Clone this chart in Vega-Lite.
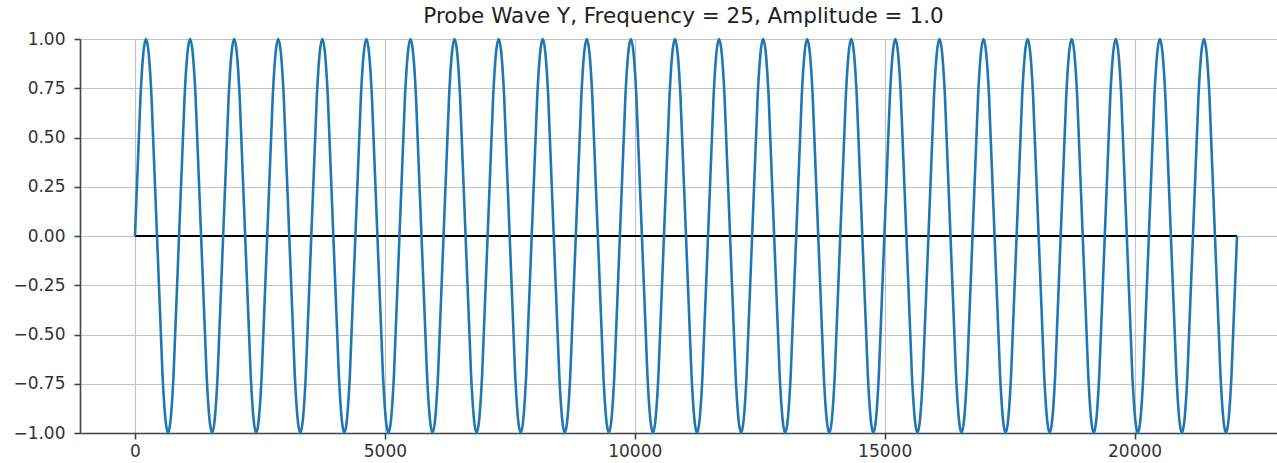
{
  "$schema": "https://vega.github.io/schema/vega-lite/v6.json",
  "width": 1197,
  "height": 394,
  "autosize": {"type": "none"},
  "padding": {"left": 80, "top": 39, "right": 0, "bottom": 30},
  "background": "white",
  "title": {"text": "Probe Wave Y, Frequency = 25, Amplitude = 1.0", "font": "DejaVu Sans", "fontSize": 21.5, "fontWeight": "normal", "color": "#222", "offset": 3, "anchor": "middle", "dx": 5},
  "config": {
    "view": {"stroke": null},
    "axis": {
      "labelFont": "DejaVu Sans", "labelFontSize": 17, "labelColor": "#333",
      "domainColor": "#444", "domainWidth": 1.6,
      "tickColor": "#444", "tickWidth": 1.6, "tickSize": 6,
      "gridColor": "#c4c4c4", "gridWidth": 1.2, "title": null
    }
  },
  "datasets": {
    "zero": [{"x": 0, "y": 0}, {"x": 22050, "y": 0}],
    "wave": [
{"x":0,"y":0},{"x":110.25,"y":0.7071},{"x":220.5,"y":1},{"x":330.75,"y":0.7071},{"x":441,"y":0},{"x":551.25,"y":-0.7071},{"x":661.5,"y":-1},{"x":771.75,"y":-0.7071},
{"x":882,"y":0},{"x":992.25,"y":0.7071},{"x":1102.5,"y":1},{"x":1212.75,"y":0.7071},{"x":1323,"y":0},{"x":1433.25,"y":-0.7071},{"x":1543.5,"y":-1},{"x":1653.75,"y":-0.7071},
{"x":1764,"y":0},{"x":1874.25,"y":0.7071},{"x":1984.5,"y":1},{"x":2094.75,"y":0.7071},{"x":2205,"y":0},{"x":2315.25,"y":-0.7071},{"x":2425.5,"y":-1},{"x":2535.75,"y":-0.7071},
{"x":2646,"y":0},{"x":2756.25,"y":0.7071},{"x":2866.5,"y":1},{"x":2976.75,"y":0.7071},{"x":3087,"y":0},{"x":3197.25,"y":-0.7071},{"x":3307.5,"y":-1},{"x":3417.75,"y":-0.7071},
{"x":3528,"y":0},{"x":3638.25,"y":0.7071},{"x":3748.5,"y":1},{"x":3858.75,"y":0.7071},{"x":3969,"y":0},{"x":4079.25,"y":-0.7071},{"x":4189.5,"y":-1},{"x":4299.75,"y":-0.7071},
{"x":4410,"y":0},{"x":4520.25,"y":0.7071},{"x":4630.5,"y":1},{"x":4740.75,"y":0.7071},{"x":4851,"y":0},{"x":4961.25,"y":-0.7071},{"x":5071.5,"y":-1},{"x":5181.75,"y":-0.7071},
{"x":5292,"y":0},{"x":5402.25,"y":0.7071},{"x":5512.5,"y":1},{"x":5622.75,"y":0.7071},{"x":5733,"y":0},{"x":5843.25,"y":-0.7071},{"x":5953.5,"y":-1},{"x":6063.75,"y":-0.7071},
{"x":6174,"y":0},{"x":6284.25,"y":0.7071},{"x":6394.5,"y":1},{"x":6504.75,"y":0.7071},{"x":6615,"y":0},{"x":6725.25,"y":-0.7071},{"x":6835.5,"y":-1},{"x":6945.75,"y":-0.7071},
{"x":7056,"y":0},{"x":7166.25,"y":0.7071},{"x":7276.5,"y":1},{"x":7386.75,"y":0.7071},{"x":7497,"y":0},{"x":7607.25,"y":-0.7071},{"x":7717.5,"y":-1},{"x":7827.75,"y":-0.7071},
{"x":7938,"y":0},{"x":8048.25,"y":0.7071},{"x":8158.5,"y":1},{"x":8268.75,"y":0.7071},{"x":8379,"y":0},{"x":8489.25,"y":-0.7071},{"x":8599.5,"y":-1},{"x":8709.75,"y":-0.7071},
{"x":8820,"y":0},{"x":8930.25,"y":0.7071},{"x":9040.5,"y":1},{"x":9150.75,"y":0.7071},{"x":9261,"y":0},{"x":9371.25,"y":-0.7071},{"x":9481.5,"y":-1},{"x":9591.75,"y":-0.7071},
{"x":9702,"y":0},{"x":9812.25,"y":0.7071},{"x":9922.5,"y":1},{"x":10032.75,"y":0.7071},{"x":10143,"y":0},{"x":10253.25,"y":-0.7071},{"x":10363.5,"y":-1},{"x":10473.75,"y":-0.7071},
{"x":10584,"y":0},{"x":10694.25,"y":0.7071},{"x":10804.5,"y":1},{"x":10914.75,"y":0.7071},{"x":11025,"y":0},{"x":11135.25,"y":-0.7071},{"x":11245.5,"y":-1},{"x":11355.75,"y":-0.7071},
{"x":11466,"y":0},{"x":11576.25,"y":0.7071},{"x":11686.5,"y":1},{"x":11796.75,"y":0.7071},{"x":11907,"y":0},{"x":12017.25,"y":-0.7071},{"x":12127.5,"y":-1},{"x":12237.75,"y":-0.7071},
{"x":12348,"y":0},{"x":12458.25,"y":0.7071},{"x":12568.5,"y":1},{"x":12678.75,"y":0.7071},{"x":12789,"y":0},{"x":12899.25,"y":-0.7071},{"x":13009.5,"y":-1},{"x":13119.75,"y":-0.7071},
{"x":13230,"y":0},{"x":13340.25,"y":0.7071},{"x":13450.5,"y":1},{"x":13560.75,"y":0.7071},{"x":13671,"y":0},{"x":13781.25,"y":-0.7071},{"x":13891.5,"y":-1},{"x":14001.75,"y":-0.7071},
{"x":14112,"y":0},{"x":14222.25,"y":0.7071},{"x":14332.5,"y":1},{"x":14442.75,"y":0.7071},{"x":14553,"y":0},{"x":14663.25,"y":-0.7071},{"x":14773.5,"y":-1},{"x":14883.75,"y":-0.7071},
{"x":14994,"y":0},{"x":15104.25,"y":0.7071},{"x":15214.5,"y":1},{"x":15324.75,"y":0.7071},{"x":15435,"y":0},{"x":15545.25,"y":-0.7071},{"x":15655.5,"y":-1},{"x":15765.75,"y":-0.7071},
{"x":15876,"y":0},{"x":15986.25,"y":0.7071},{"x":16096.5,"y":1},{"x":16206.75,"y":0.7071},{"x":16317,"y":0},{"x":16427.25,"y":-0.7071},{"x":16537.5,"y":-1},{"x":16647.75,"y":-0.7071},
{"x":16758,"y":0},{"x":16868.25,"y":0.7071},{"x":16978.5,"y":1},{"x":17088.75,"y":0.7071},{"x":17199,"y":0},{"x":17309.25,"y":-0.7071},{"x":17419.5,"y":-1},{"x":17529.75,"y":-0.7071},
{"x":17640,"y":0},{"x":17750.25,"y":0.7071},{"x":17860.5,"y":1},{"x":17970.75,"y":0.7071},{"x":18081,"y":0},{"x":18191.25,"y":-0.7071},{"x":18301.5,"y":-1},{"x":18411.75,"y":-0.7071},
{"x":18522,"y":0},{"x":18632.25,"y":0.7071},{"x":18742.5,"y":1},{"x":18852.75,"y":0.7071},{"x":18963,"y":0},{"x":19073.25,"y":-0.7071},{"x":19183.5,"y":-1},{"x":19293.75,"y":-0.7071},
{"x":19404,"y":0},{"x":19514.25,"y":0.7071},{"x":19624.5,"y":1},{"x":19734.75,"y":0.7071},{"x":19845,"y":0},{"x":19955.25,"y":-0.7071},{"x":20065.5,"y":-1},{"x":20175.75,"y":-0.7071},
{"x":20286,"y":0},{"x":20396.25,"y":0.7071},{"x":20506.5,"y":1},{"x":20616.75,"y":0.7071},{"x":20727,"y":0},{"x":20837.25,"y":-0.7071},{"x":20947.5,"y":-1},{"x":21057.75,"y":-0.7071},
{"x":21168,"y":0},{"x":21278.25,"y":0.7071},{"x":21388.5,"y":1},{"x":21498.75,"y":0.7071},{"x":21609,"y":0},{"x":21719.25,"y":-0.7071},{"x":21829.5,"y":-1},{"x":21939.75,"y":-0.7071},
{"x":22050,"y":0}
    ]
  },
  "encoding": {
    "x": {"field": "x", "type": "quantitative", "scale": {"domain": [-1100, 22850], "nice": false, "zero": false},
      "axis": {"values": [0, 5000, 10000, 15000, 20000], "format": "d", "grid": true, "labelPadding": 4}},
    "y": {"field": "y", "type": "quantitative", "scale": {"domain": [-1, 1], "nice": false},
      "axis": {"values": [-1, -0.75, -0.5, -0.25, 0, 0.25, 0.5, 0.75, 1], "format": ".2f", "grid": true, "labelPadding": 9}}
  },
  "layer": [
    {"data": {"name": "zero"}, "mark": {"type": "line", "color": "black", "strokeWidth": 1.8}},
    {"data": {"name": "wave"}, "mark": {"type": "line", "color": "#1f77b4", "strokeWidth": 2.6, "interpolate": "natural"}},
    {"data": {"values": [{"t": 1}]}, "mark": {"type": "rule", "color": "#444", "strokeWidth": 1.6}, "encoding": {"y": {"datum": 1}, "x": null}}
  ]
}
